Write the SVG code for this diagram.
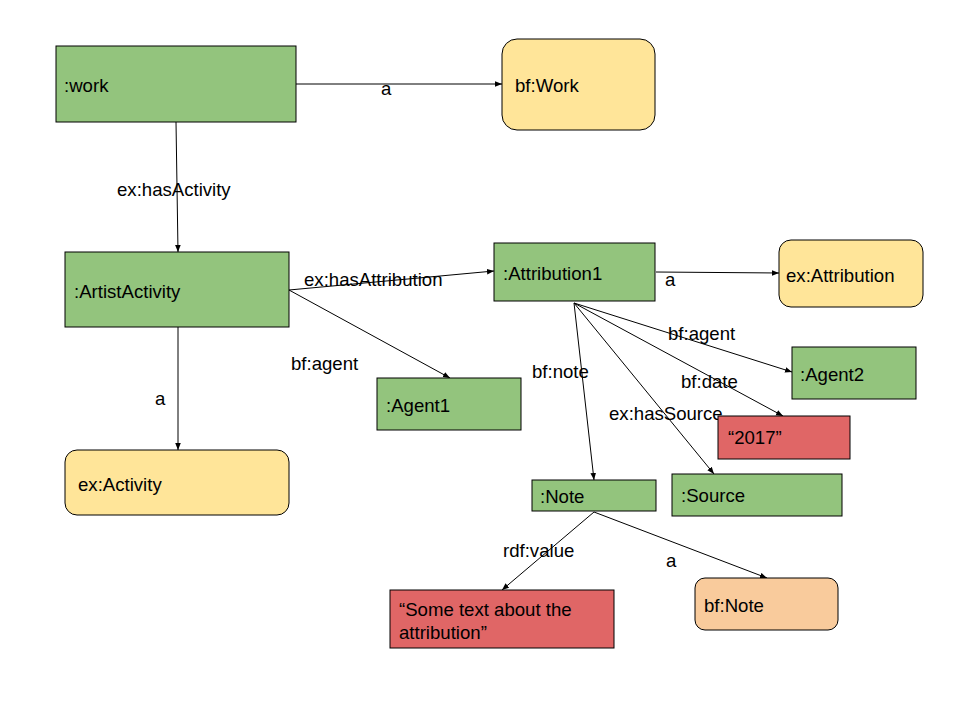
<svg xmlns="http://www.w3.org/2000/svg" width="960" height="720" viewBox="0 0 960 720">
<style>
text{font-family:"Liberation Sans",Arial,sans-serif;font-size:18.6px;fill:#000;dominant-baseline:central}
.g{fill:#93c47d;stroke:#000;stroke-width:1}
.y{fill:#ffe599;stroke:#000;stroke-width:1}
.r{fill:#e06666;stroke:#000;stroke-width:1}
.o{fill:#f9cb9c;stroke:#000;stroke-width:1}
.e{stroke:#000;stroke-width:1;fill:none;marker-end:url(#ah)}
</style>
<defs>
<marker id="ah" viewBox="0 0 10 10" refX="10" refY="5" markerWidth="7" markerHeight="7" markerUnits="userSpaceOnUse" orient="auto">
<path d="M0,1 L10,5 L0,9 z" fill="#000"/>
</marker>
</defs>
<rect width="960" height="720" fill="#fff"/>
<g id="connectors">
<line class="e" x1="296" y1="84" x2="502" y2="84"/>
<text x="381" y="88">a</text>
<line class="e" x1="176" y1="122" x2="178" y2="252"/>
<text x="117" y="189">ex:hasActivity</text>
<line class="e" x1="178" y1="327" x2="178" y2="450"/>
<text x="155" y="398">a</text>
<line class="e" x1="289" y1="290" x2="494" y2="271"/>
<text x="304" y="279">ex:hasAttribution</text>
<line class="e" x1="289" y1="290" x2="450" y2="378"/>
<text x="291" y="363">bf:agent</text>
<line class="e" x1="656" y1="272" x2="779" y2="273"/>
<text x="665" y="279">a</text>
<line class="e" x1="574" y1="303" x2="792" y2="372"/>
<text x="668" y="333">bf:agent</text>
<line class="e" x1="574" y1="303" x2="783" y2="416"/>
<text x="681" y="381">bf:date</text>
<line class="e" x1="574" y1="303" x2="714" y2="474"/>
<text x="609" y="413">ex:hasSource</text>
<line class="e" x1="574" y1="303" x2="594" y2="480"/>
<text x="532" y="371">bf:note</text>
<line class="e" x1="594" y1="512" x2="502" y2="590"/>
<text x="503" y="550">rdf:value</text>
<line class="e" x1="594" y1="512" x2="767" y2="578"/>
<text x="666" y="560">a</text>
</g>
<g id="work"><rect class="g" x="56" y="46" width="240" height="76"/><text x="64" y="85">:work</text></g>
<g id="bfWork"><rect class="y" x="502" y="39" width="153" height="91" rx="15"/><text x="515" y="85">bf:Work</text></g>
<g id="artistActivity"><rect class="g" x="65" y="252" width="224" height="75"/><text x="74" y="291">:ArtistActivity</text></g>
<g id="exActivity"><rect class="y" x="65" y="450" width="224" height="65" rx="12"/><text x="78" y="484">ex:Activity</text></g>
<g id="attribution1"><rect class="g" x="494" y="243" width="161" height="58"/><text x="503" y="273">:Attribution1</text></g>
<g id="exAttribution"><rect class="y" x="779" y="240" width="144" height="67" rx="12"/><text x="786" y="275">ex:Attribution</text></g>
<g id="agent1"><rect class="g" x="377" y="378" width="144" height="52"/><text x="386" y="405">:Agent1</text></g>
<g id="agent2"><rect class="g" x="792" y="347" width="124" height="52"/><text x="800" y="374">:Agent2</text></g>
<g id="date2017"><rect class="r" x="718" y="416" width="132" height="43"/><text x="728" y="437">“2017”</text></g>
<g id="source"><rect class="g" x="672" y="474" width="170" height="42"/><text x="681" y="495">:Source</text></g>
<g id="note"><rect class="g" x="532" y="480" width="124" height="31"/><text x="540" y="496">:Note</text></g>
<g id="someText"><rect class="r" x="390" y="590" width="224" height="58"/><text x="399" y="609">“Some text about the</text><text x="399" y="632">attribution”</text></g>
<g id="bfNote"><rect class="o" x="695" y="578" width="143" height="52" rx="10"/><text x="704" y="605">bf:Note</text></g>
</svg>
